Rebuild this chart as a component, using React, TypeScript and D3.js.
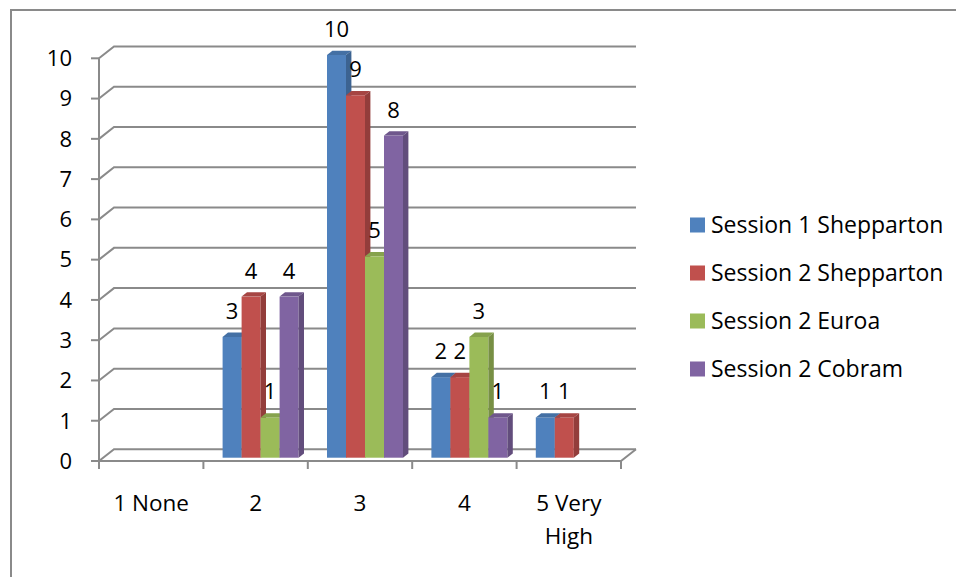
import React from "react";
import * as d3 from "d3";

const categories = ["1 None", "2", "3", "4", "5 Very High"];
const seriesNames = [
  "Session 1 Shepparton",
  "Session 2 Shepparton",
  "Session 2 Euroa",
  "Session 2 Cobram",
];
const session1Shepparton: (number | null)[] = [null, 3, 10, 2, 1];
const session2Shepparton: (number | null)[] = [null, 4, 9, 2, 1];
const session2Euroa: (number | null)[] = [null, 1, 5, 3, null];
const session2Cobram: (number | null)[] = [null, 4, 8, 1, null];
const seriesValues = [session1Shepparton, session2Shepparton, session2Euroa, session2Cobram];
const yTicks = [0, 1, 2, 3, 4, 5, 6, 7, 8, 9, 10];
const colors = ["#4F81BD", "#C0504D", "#9BBB59", "#8064A2"];

const W = 956;
const H = 577;
const FONT = "'Open Sans', 'Noto Sans', sans-serif";
const FS = 22;
const FS_CAT = 22.5;
const FS_LEG = 23;
const GRID = "#8a8a8a";

// wall depth offsets
const DX = 15;
const DY = -11.8;
// bar plane offsets
const BX = 5;
const BY = -3.3;
const BAR_W = 19;
const BDX = 5.4;
const BDY = -4.3;

function wrap(label: string): string[] {
  if (label.length > 7) {
    const i = label.lastIndexOf(" ");
    return [label.slice(0, i), label.slice(i + 1)];
  }
  return [label];
}

export default function App() {
  const x = d3.scaleBand<string>().domain(categories).range([99, 621]).padding(0);
  const y = d3.scaleLinear().domain([0, 10]).range([461, 58.3]);
  const s = d3
    .scaleBand<string>()
    .domain(seriesNames)
    .range([-(BAR_W * seriesNames.length) / 2, (BAR_W * seriesNames.length) / 2]);

  const x0 = x.range()[0];
  const x1 = x.range()[1];
  const yBase = y(0);

  const bars: React.ReactNode[] = [];
  const labels: React.ReactNode[] = [];
  categories.forEach((c, ci) => {
    seriesNames.forEach((name, si) => {
      const v = seriesValues[si][ci];
      if (v === null || v === undefined) return;
      const left = (x(c) as number) + x.bandwidth() / 2 + BX + (s(name) as number);
      const right = left + s.bandwidth();
      const bottom = y(0) + BY;
      const top = y(v) + BY;
      const col = d3.color(colors[si])!;
      const side = col.darker(0.75).formatHex();
      const topC = col.darker(0.4).formatHex();
      bars.push(
        <g key={`b-${ci}-${si}`}>
          <rect x={left} y={top} width={right - left} height={bottom - top} fill={colors[si]} />
          <path
            d={`M${left},${top}L${right},${top}L${right + BDX},${top + BDY}L${left + BDX},${top + BDY}Z`}
            fill={topC}
          />
          <path
            d={`M${right},${top}L${right + BDX},${top + BDY}L${right + BDX},${bottom + BDY}L${right},${bottom}Z`}
            fill={side}
          />
        </g>
      );
      labels.push(
        <text
          key={`l-${ci}-${si}`}
          x={(left + right) / 2}
          y={top - 18}
          textAnchor="middle"
          fontFamily={FONT}
          fontSize={FS}
          fill="#000"
        >
          {v}
        </text>
      );
    });
  });

  const catEdges = [...categories.map((c) => x(c) as number), x1];

  return (
    <svg
      width={W}
      height={H}
      style={{ position: "absolute", left: 0, top: 0, display: "block", background: "#fff" }}
    >
      <rect x={0} y={0} width={W} height={H} fill="#fff" />
      {/* outer chart border */}
      <rect x={11} y={10} width={W + 20} height={H + 20} fill="none" stroke={GRID} strokeWidth={2} />

      {/* gridlines on side and back walls */}
      {yTicks.map((t) => (
        <path
          key={`g-${t}`}
          d={`M${x0},${y(t)}L${x0 + DX},${y(t) + DY}L${x1 + DX},${y(t) + DY}`}
          fill="none"
          stroke={GRID}
          strokeWidth={2}
        />
      ))}
      {/* floor front edge */}
      <path
        d={`M${x0},${yBase}L${x1},${yBase}L${x1 + DX},${yBase + DY}`}
        fill="none"
        stroke={GRID}
        strokeWidth={2}
      />
      {/* value axis */}
      <line x1={x0} x2={x0} y1={y(10)} y2={yBase} stroke={GRID} strokeWidth={2} />
      {yTicks.map((t) => (
        <g key={`yt-${t}`}>
          <line x1={x0 - 8} x2={x0} y1={y(t)} y2={y(t)} stroke={GRID} strokeWidth={2} />
          <text
            x={72}
            y={y(t) + 7.8}
            textAnchor="end"
            fontFamily={FONT}
            fontSize={FS}
            fill="#000"
          >
            {t}
          </text>
        </g>
      ))}
      {/* category ticks */}
      {catEdges.map((e, i) => (
        <line key={`ct-${i}`} x1={e} x2={e} y1={yBase} y2={yBase + 8} stroke={GRID} strokeWidth={2} />
      ))}
      {categories.map((c) => (
        <text
          key={`cl-${c}`}
          x={(x(c) as number) + x.bandwidth() / 2}
          y={503 + 8}
          textAnchor="middle"
          fontFamily={FONT}
          fontSize={FS_CAT}
          fill="#000"
        >
          {wrap(c).map((line, li) => (
            <tspan key={li} x={(x(c) as number) + x.bandwidth() / 2} dy={li === 0 ? 0 : 33}>
              {line}
            </tspan>
          ))}
        </text>
      ))}

      {bars}
      {labels}

      {/* legend */}
      {seriesNames.map((name, i) => (
        <g key={`lg-${i}`}>
          <rect x={690} y={225 + 48 * i - 7.5} width={15} height={15} fill={colors[i]} />
          <text
            x={711}
            y={225 + 48 * i + 8.2}
            fontFamily={FONT}
            fontSize={FS_LEG}
            fill="#000"
          >
            {name}
          </text>
        </g>
      ))}
    </svg>
  );
}
